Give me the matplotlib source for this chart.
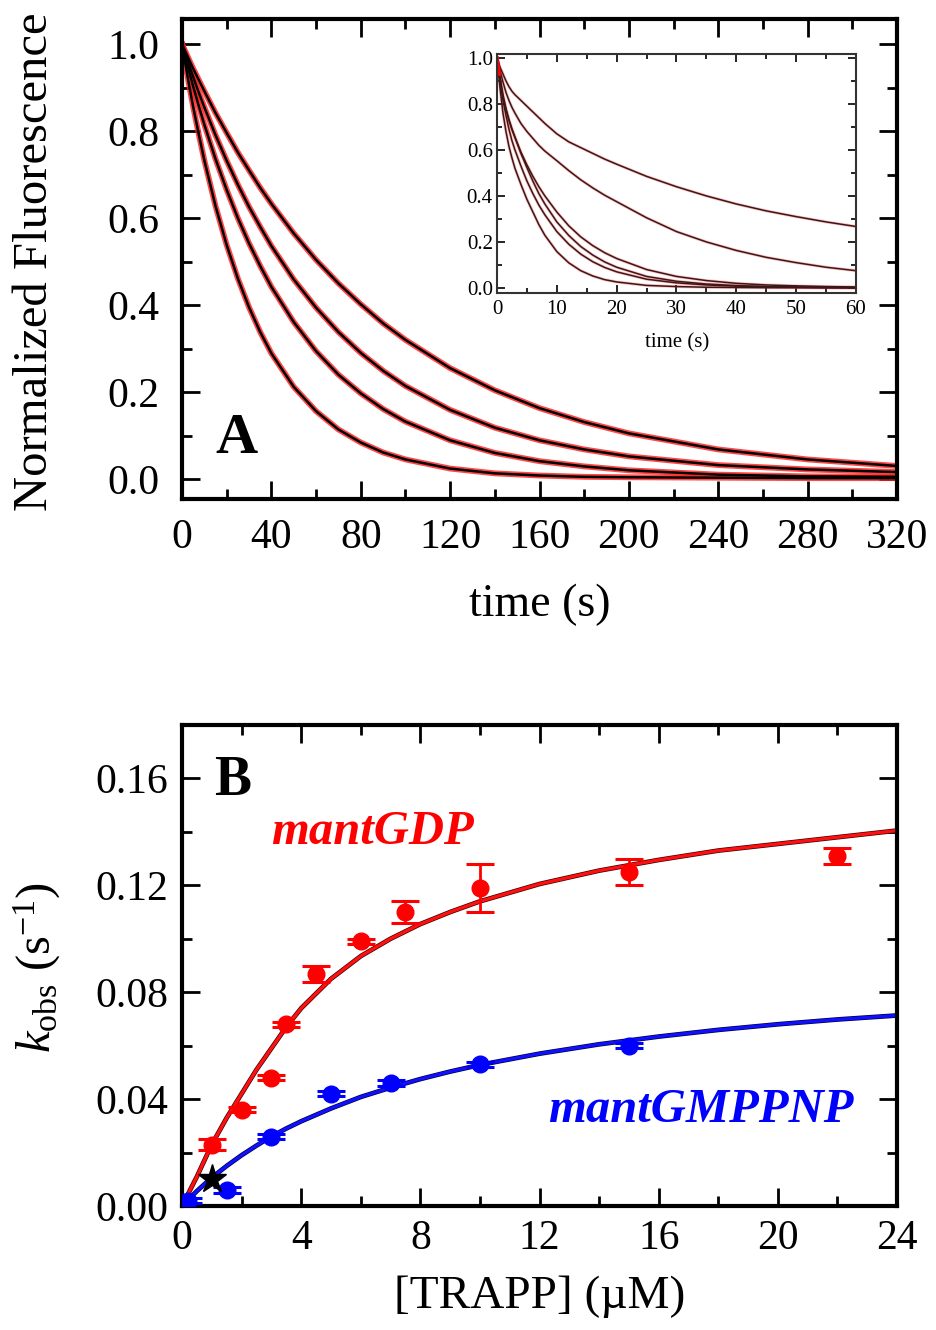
import matplotlib
matplotlib.use('Agg')
import matplotlib.pyplot as plt
from matplotlib.ticker import MultipleLocator, FormatStrFormatter

plt.rcParams['font.family'] = ['Liberation Serif', 'DejaVu Serif']
plt.rcParams['mathtext.fontset'] = 'custom'
plt.rcParams['mathtext.rm'] = 'Liberation Serif'
plt.rcParams['mathtext.it'] = 'Liberation Serif:italic'

# --- Panel A: fluorescence decays ---
t_main = [0, 2.5, 5, 7.5, 10, 15, 20, 25, 30, 35, 40, 50, 60, 70, 80, 90, 100,
          120, 140, 160, 180, 200, 240, 280, 320]
decay_1 = [1.0, 0.925, 0.856, 0.793, 0.733, 0.628, 0.538, 0.461, 0.395, 0.338,
           0.289, 0.212, 0.156, 0.114, 0.084, 0.061, 0.045, 0.024, 0.013, 0.008,
           0.005, 0.004, 0.003, 0.002, 0.002]
decay_2 = [1.0, 0.950, 0.903, 0.858, 0.815, 0.736, 0.665, 0.600, 0.542, 0.490,
           0.442, 0.361, 0.294, 0.240, 0.197, 0.161, 0.132, 0.089, 0.060, 0.041,
           0.029, 0.020, 0.010, 0.006, 0.005]
decay_3 = [1.0, 0.962, 0.925, 0.889, 0.855, 0.791, 0.732, 0.677, 0.626, 0.580,
           0.536, 0.459, 0.394, 0.338, 0.290, 0.249, 0.214, 0.159, 0.118, 0.089,
           0.068, 0.052, 0.032, 0.022, 0.016]
decay_4 = [1.0, 0.972, 0.944, 0.918, 0.892, 0.842, 0.796, 0.751, 0.710, 0.670,
           0.633, 0.565, 0.504, 0.450, 0.402, 0.358, 0.320, 0.255, 0.204, 0.163,
           0.131, 0.105, 0.068, 0.045, 0.030]

# inset (first 60 s)
t_inset = [0, 0.5, 1, 1.5, 2, 2.5, 3, 4, 5, 6, 7, 8, 10, 12, 14, 16, 18, 20,
           25, 30, 35, 40, 45, 50, 55, 60]
inset_1 = [1.0, 0.96, 0.93, 0.90, 0.875, 0.855, 0.84, 0.815, 0.79, 0.765, 0.74,
           0.715, 0.67, 0.635, 0.61, 0.585, 0.56, 0.538, 0.485, 0.44, 0.40,
           0.365, 0.335, 0.31, 0.287, 0.267]
inset_2 = [1.0, 0.945, 0.895, 0.85, 0.815, 0.785, 0.76, 0.715, 0.68, 0.65, 0.62,
           0.595, 0.553, 0.51, 0.47, 0.435, 0.403, 0.375, 0.305, 0.245, 0.20,
           0.163, 0.133, 0.11, 0.09, 0.075]
inset_3 = [1.0, 0.91, 0.83, 0.775, 0.73, 0.69, 0.655, 0.59, 0.535, 0.485, 0.44,
           0.40, 0.33, 0.27, 0.222, 0.184, 0.153, 0.128, 0.08, 0.05, 0.032,
           0.02, 0.013, 0.009, 0.006, 0.004]
inset_4 = [1.0, 0.915, 0.84, 0.78, 0.73, 0.69, 0.655, 0.585, 0.523, 0.464, 0.41,
           0.365, 0.287, 0.228, 0.18, 0.143, 0.113, 0.09, 0.05, 0.029, 0.017,
           0.01, 0.006, 0.004, 0.003, 0.002]
inset_5 = [1.0, 0.90, 0.815, 0.75, 0.69, 0.64, 0.60, 0.53, 0.465, 0.41, 0.36,
           0.318, 0.245, 0.19, 0.147, 0.114, 0.089, 0.07, 0.038, 0.022, 0.013,
           0.008, 0.005, 0.003, 0.002, 0.001]
inset_6 = [1.0, 0.87, 0.76, 0.68, 0.615, 0.565, 0.52, 0.45, 0.385, 0.33, 0.275,
           0.229, 0.158, 0.109, 0.075, 0.052, 0.036, 0.026, 0.011, 0.006, 0.003,
           0.002, 0.001, 0.001, 0.0, 0.0]

# --- Panel B: kobs vs [TRAPP] ---
gdp_x = [1.0, 2.0, 3.0, 3.5, 4.5, 6.0, 7.5, 10.0, 15.0, 22.0]
gdp_y = [0.023, 0.036, 0.048, 0.068, 0.087, 0.099, 0.110, 0.119, 0.125, 0.131]
gdp_err = [0.002, 0.001, 0.001, 0.001, 0.003, 0.001, 0.004, 0.009, 0.005, 0.003]

gmp_x = [0.2, 1.5, 3.0, 5.0, 7.0, 10.0, 15.0]
gmp_y = [0.002, 0.006, 0.026, 0.042, 0.046, 0.053, 0.060]
gmp_err = [0.001, 0.001, 0.001, 0.001, 0.001, 0.001, 0.001]

star_x = [1.0]
star_y = [0.010]

fit_x = [0, 0.5, 1, 1.5, 2, 2.5, 3, 3.5, 4, 5, 6, 7, 8, 9, 10, 12, 14, 16, 18, 20, 22, 24]
gdp_fit = [0.0, 0.011, 0.023, 0.033, 0.042, 0.051, 0.059, 0.067, 0.074, 0.085,
           0.0935, 0.100, 0.1055, 0.110, 0.114, 0.1205, 0.1255, 0.1295, 0.133,
           0.1355, 0.138, 0.1405]
gmp_fit = [0.0, 0.0056, 0.0106, 0.015, 0.019, 0.0226, 0.026, 0.029, 0.0317,
           0.0365, 0.0408, 0.0443, 0.0475, 0.0503, 0.0528, 0.057, 0.0605,
           0.0634, 0.0659, 0.068, 0.0698, 0.0713]

W, H = 937, 1330
fig = plt.figure(figsize=(W / 100, H / 100), dpi=100)
axA = fig.add_axes([182 / W, 1 - 499 / H, 715 / W, 480 / H])
axB = fig.add_axes([182 / W, 1 - 1206 / H, 715 / W, 481 / H])
axI = fig.add_axes([497 / W, 1 - 293 / H, 359 / W, 239 / H])


def style_axes(ax, lw, major, minor, tw, size, pad):
    for s in ax.spines.values():
        s.set_linewidth(lw)
    ax.tick_params(which='both', direction='in', top=True, right=True,
                   labelsize=size, pad=pad, width=tw)
    ax.tick_params(which='major', length=major)
    ax.tick_params(which='minor', length=minor)


# Panel A: red raw traces under the black fits
for d in (decay_1, decay_2, decay_3, decay_4):
    axA.plot(t_main, d, color='#ff1a1a', lw=4.2, alpha=0.8)
for d in (decay_1, decay_2, decay_3, decay_4):
    axA.plot(t_main, d, color='black', lw=1.8)
axA.set_xlim(0, 320)
axA.set_ylim(-0.046, 1.058)
axA.xaxis.set_major_locator(MultipleLocator(40))
axA.xaxis.set_minor_locator(MultipleLocator(20))
axA.yaxis.set_major_locator(MultipleLocator(0.2))
axA.yaxis.set_minor_locator(MultipleLocator(0.1))
axA.yaxis.set_major_formatter(FormatStrFormatter('%.1f'))
style_axes(axA, 3, 13, 7, 2, 30, 14)
axA.tick_params(axis='y', pad=16)
fig.text(35 / W, 1 - 262 / H, 'Normalized Fluorescence', rotation=90,
         ha='center', va='center', fontsize=35)
fig.text(540 / W, 1 - 605 / H, 'time (s)', ha='center', va='center', fontsize=33)
fig.text(236 / W, 1 - 439 / H, 'A', ha='center', va='center',
         fontsize=42, fontweight='bold')

# Inset
for d in (inset_1, inset_2, inset_3, inset_4, inset_5, inset_6):
    axI.plot(t_inset, d, color='#ff3030', lw=2.2, alpha=0.3)
for d in (inset_1, inset_2, inset_3, inset_4, inset_5, inset_6):
    axI.plot(t_inset, d, color='#3a1818', lw=1.1)
axI.plot([0, 0.4], [1.0, 0.93], color='#ff0000', lw=2.5)
axI.set_xlim(0, 60)
axI.set_ylim(-0.022, 1.017)
axI.xaxis.set_major_locator(MultipleLocator(10))
axI.xaxis.set_minor_locator(MultipleLocator(5))
axI.yaxis.set_major_locator(MultipleLocator(0.2))
axI.yaxis.set_minor_locator(MultipleLocator(0.1))
axI.yaxis.set_major_formatter(FormatStrFormatter('%.1f'))
style_axes(axI, 1.5, 6, 3.5, 1.2, 15, 5)
axI.tick_params(axis='y', pad=3)
for s in axI.spines.values():
    s.set_color('#333333')
fig.text(677 / W, 1 - 343 / H, 'time (s)', ha='center', va='center', fontsize=15)

# Panel B
axB.plot(fit_x, gdp_fit, color='#3a0000', lw=3.4)
axB.plot(fit_x, gdp_fit, color='#ff1010', lw=2.4)
axB.plot(fit_x, gmp_fit, color='#00003a', lw=3.4)
axB.plot(fit_x, gmp_fit, color='#1010ff', lw=2.4)
axB.errorbar(gdp_x, gdp_y, yerr=gdp_err, fmt='o', color='#ff0000', ms=12,
             capsize=10, capthick=2.2, elinewidth=2, zorder=4)
axB.errorbar(gmp_x, gmp_y, yerr=gmp_err, fmt='o', color='#0000ff', ms=12,
             capsize=10, capthick=2.2, elinewidth=2, zorder=4)
axB.plot(star_x, star_y, marker='*', color='black', ms=21, ls='none', zorder=5)
axB.set_xlim(0, 24)
axB.set_ylim(0, 0.18)
axB.xaxis.set_major_locator(MultipleLocator(4))
axB.xaxis.set_minor_locator(MultipleLocator(2))
axB.yaxis.set_major_locator(MultipleLocator(0.04))
axB.yaxis.set_minor_locator(MultipleLocator(0.02))
axB.yaxis.set_major_formatter(FormatStrFormatter('%.2f'))
style_axes(axB, 3, 13, 7, 2, 30, 10)
axB.tick_params(axis='y', pad=10)
fig.text(37 / W, 1 - 967 / H, r'$k_{\rm obs}$ (s$^{-1}$)', rotation=90,
         ha='center', va='center', fontsize=35)
fig.text(540 / W, 1 - 1297 / H, '[TRAPP] (\u00b5M)', ha='center', va='center',
         fontsize=34)
fig.text(233 / W, 1 - 781 / H, 'B', ha='center', va='center',
         fontsize=40, fontweight='bold')
axB.text(6.4, 0.140, 'mantGDP', color='#ff0000', fontsize=35,
         fontweight='bold', fontstyle='italic', ha='center', va='center')
axB.text(17.4, 0.0358, 'mantGMPPNP', color='#0000ff', fontsize=35,
         fontweight='bold', fontstyle='italic', ha='center', va='center')

fig.savefig('out.png', dpi=100)
